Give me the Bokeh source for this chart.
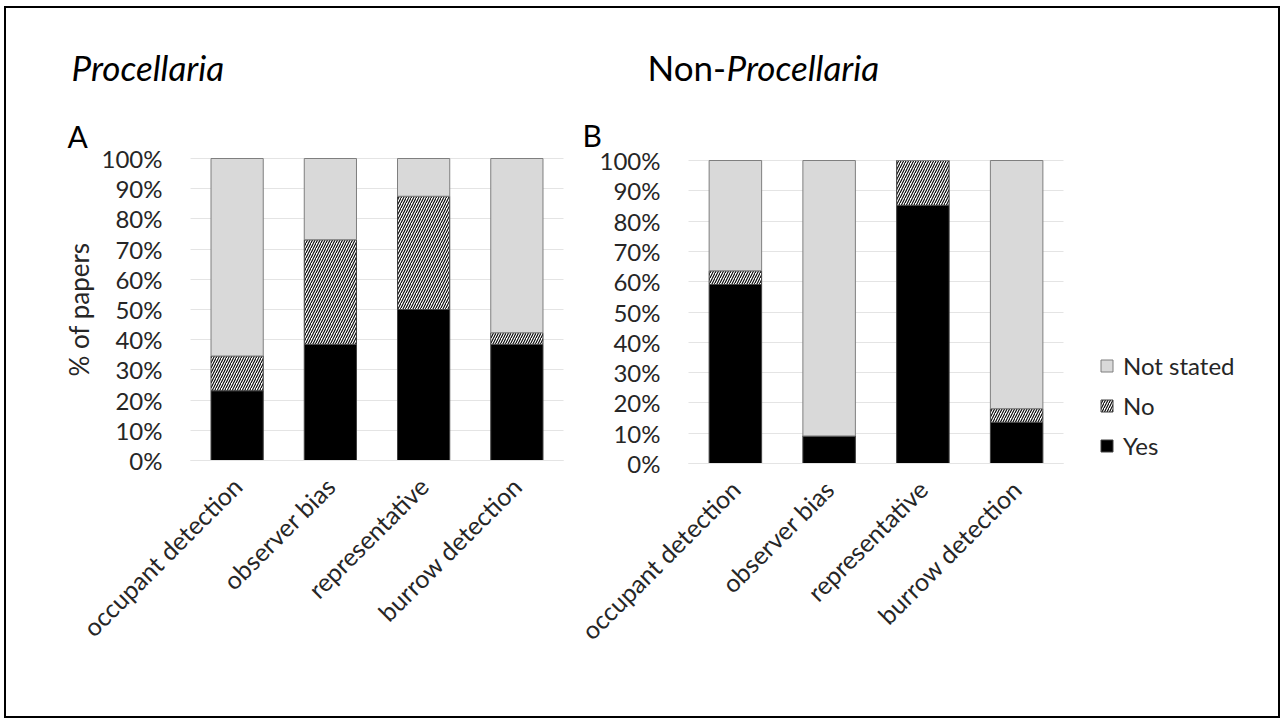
import math
from bokeh.plotting import figure
from bokeh.models import (Range1d, FixedTicker, PrintfTickFormatter, LinearAxis, Grid,
                          Label, Legend, LegendItem, ColumnDataSource)
from bokeh.layouts import row
from bokeh.embed import file_html
from bokeh.resources import INLINE

categories = ["occupant detection", "observer bias", "representative", "burrow detection"]
series = ["Yes", "No", "Not stated"]

a_yes = [23.1, 38.5, 50.0, 38.5]
a_no = [11.5, 34.6, 37.5, 3.8]
a_not = [65.4, 26.9, 12.5, 57.7]

b_yes = [59.1, 9.1, 85.2, 13.6]
b_no = [4.5, 0.0, 14.8, 4.5]
b_not = [36.4, 90.9, 0.0, 81.9]

y_ticks = [0, 10, 20, 30, 40, 50, 60, 70, 80, 90, 100]

FONT = "Lato"
TXT = "#262626"
FILLS = ["#000000", "#ffffff", "#d9d9d9"]
LINES = ["#404040", "#404040", "#7f7f7f"]
HATCH = [" ", "/", " "]
GRID = "#e4e4e4"
TICK_SIZE = "24px"


def make_fig(yes, no, nots, width, height, left, right, top, bottom, ylabel):
    # left/right/top/bottom: pixel box of the plotting area inside the figure
    n = len(categories)
    xppu = (right - left) / n
    yppu = (bottom - top) / 100.0
    xr = Range1d(-left / xppu, n + (width - right) / xppu)
    yr = Range1d(-(height - bottom) / yppu, 100 + top / yppu)
    p = figure(x_range=xr, y_range=yr, width=width, height=height,
               output_backend="svg", toolbar_location=None,
               x_axis_location=None, y_axis_location=None,
               min_border=0, background_fill_color="white", border_fill_color="white")
    p.outline_line_color = None
    p.grid.visible = False
    xs = [i + 0.5 for i in range(n)]
    src = ColumnDataSource(dict(x=xs, Yes=yes, No=no, **{"Not stated": nots}))
    rs = p.vbar_stack(series, x="x", width=0.56, source=src,
                      fill_color=FILLS, line_color=LINES, line_width=1,
                      hatch_pattern=HATCH, hatch_color="black", hatch_weight=1.1, hatch_scale=5)

    ytick = FixedTicker(ticks=y_ticks)
    p.add_layout(Grid(dimension=1, ticker=ytick, cross_bounds=(0, n),
                      grid_line_color=GRID, grid_line_width=1, level="underlay"))

    yax = LinearAxis(fixed_location=0, bounds=(0, 100), ticker=ytick,
                     formatter=PrintfTickFormatter(format="%d%%"))
    xax = LinearAxis(fixed_location=0, bounds=(0, n), ticker=FixedTicker(ticks=xs),
                     major_label_overrides={x: c for x, c in zip(xs, categories)})
    for ax in (xax, yax):
        ax.major_tick_line_color = None
        ax.minor_tick_line_color = None
        ax.major_label_text_font = FONT
        ax.major_label_text_font_size = TICK_SIZE
        ax.major_label_text_color = TXT
    xax.major_label_text_font_size = "25px"
    yax.axis_line_color = None
    xax.axis_line_color = GRID
    yax.major_label_standoff = 22
    xax.major_label_standoff = 15
    xax.major_label_orientation = math.pi / 4
    if ylabel:
        yax.axis_label = ylabel
        yax.axis_label_text_font = FONT
        yax.axis_label_text_font_size = "26px"
        yax.axis_label_text_font_style = "normal"
        yax.axis_label_text_color = TXT
        yax.axis_label_standoff = 4
    p.add_layout(xax, "below")
    p.add_layout(yax, "left")
    return p, rs


# figure A sits at page (6, 8), figure B at page (570, 8)
pa, rsa = make_fig(a_yes, a_no, a_not, 564, 708, 184, 557, 150, 452, "% of papers")
pb, rsb = make_fig(b_yes, b_no, b_not, 708, 708, 118, 493, 152, 455, None)


def label(p, x, y, text, size, style="normal"):
    p.add_layout(Label(x=x, y=y, x_units="screen", y_units="screen", text=text,
                       text_font=FONT, text_font_size=size, text_font_style=style,
                       text_color="black", text_baseline="alphabetic"))


label(pa, 65, 650, "Procellaria", "35px", "italic")
label(pa, 61, 581, "A", "30px")
label(pb, 77, 650, "Non-", "35px")
label(pb, 156, 650, "Procellaria", "35px", "italic")
label(pb, 12, 582, "B", "30px")

legend = Legend(items=[LegendItem(label="Not stated", renderers=[rsb[2]]),
                       LegendItem(label="No", renderers=[rsb[1]]),
                       LegendItem(label="Yes", renderers=[rsb[0]])],
                location=(529, 256), margin=0, padding=0, spacing=11,
                glyph_width=15, glyph_height=15, label_standoff=9,
                label_text_font=FONT, label_text_font_size=TICK_SIZE, label_text_color=TXT,
                border_line_color=None, background_fill_alpha=0)
pb.add_layout(legend, "center")

layout = row(pa, pb, styles={"border": "2px solid black", "margin-left": "4px",
                             "margin-top": "6px"})
open("out.html", "w").write(file_html(layout, INLINE))
